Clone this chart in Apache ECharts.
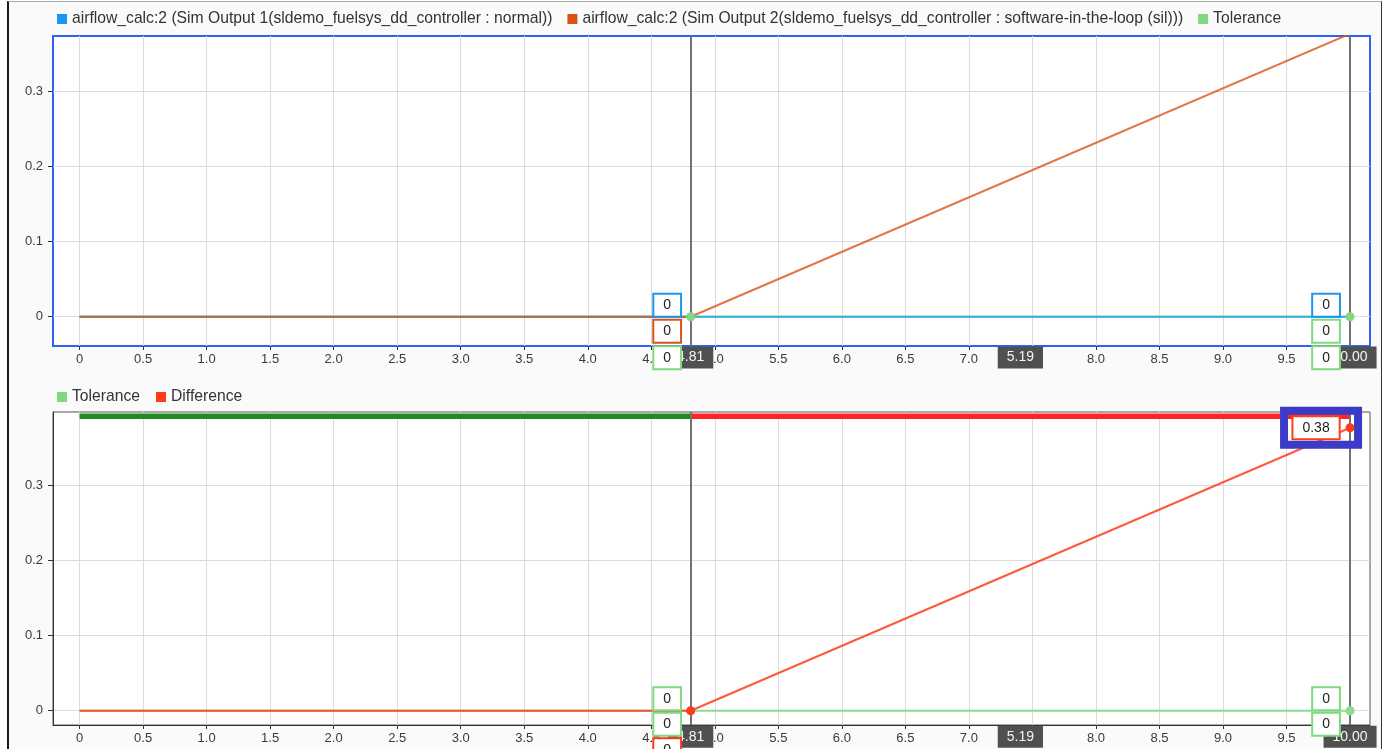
<!DOCTYPE html>
<html><head><meta charset="utf-8">
<script src="https://cdn.jsdelivr.net/npm/echarts@6/dist/echarts.min.js"></script>
<style>
html,body{margin:0;padding:0;background:#fff;overflow:hidden;}
#frame{position:absolute;left:7px;top:1px;width:1372px;height:760px;border-left:2px solid #1a1a1a;border-top:1px solid #a8a8a8;border-right:1px solid #333;background:#fafafa;}
#chart{position:absolute;left:0;top:0;width:1384px;height:749px;}
</style></head><body>
<div id="frame"></div>
<div id="chart"></div>
<script>
// ---------- data ----------
const seriesNames = [
  'airflow_calc:2 (Sim Output 1(sldemo_fuelsys_dd_controller : normal))',
  'airflow_calc:2 (Sim Output 2(sldemo_fuelsys_dd_controller : software-in-the-loop (sil)))',
  'Tolerance',
  'Difference'
];
const timeX = [0, 4.81, 10];
const simOutput1 = [0, 0, 0];
const simOutput2 = [0, 0, 0.377];
const tolerance = [0, 0, 0];
const difference = [0, 0, 0.377];
const cursors = [4.81, 10.00];
const passFail = [[0, 4.81, 1], [4.81, 10, 0]];
const xTicks = [0,0.5,1,1.5,2,2.5,3,3.5,4,4.5,5,5.5,6,6.5,7,7.5,8,8.5,9,9.5,10];
const yTicks = [0, 0.1, 0.2, 0.3];
const topReadouts = [['0','0','0'], ['0','0','0']];
const bottomReadouts = [['0','0','0'], ['0','0','0.38']];

// ---------- styles ----------
const FONT = "'Liberation Sans', Arial, sans-serif";
const C = {
  blueLegend:'#1e96f0', blueLine:'#3aaee6', orange:'#d95319', green:'#80d880', greenLine:'#8edb8e',
  red:'#ff3b1a', cursor:'#727272', passG:'#1e8c1e', failR:'#ff2424', hl:'#3b3bc8'
};
const X_MIN = -0.209, X_MAX = 10.157;
const TOP_Y = [-0.039, 0.374];
const BOT_Y = [-0.019, 0.398];

const pts = (ys) => timeX.map((x, i) => [x, ys[i]]);
const at = (ys, x) => ys[timeX.indexOf(x)];
const fmt = v => v === 0 ? '0' : v.toFixed(1);

function xAxisCfg(gridIndex, showLine) {
  return {
    type:'value', gridIndex, min:X_MIN, max:X_MAX, z:0,
    axisLine:{show:showLine, onZero:false, lineStyle:{color:'#333', width:1}},
    axisTick:{show:true, length:4, customValues:xTicks, lineStyle:{color:'#333'}},
    axisLabel:{customValues:xTicks, formatter:fmt, fontSize:13, color:'#3a3a3a', margin:7, fontFamily:FONT},
    splitLine:{show:true, lineStyle:{color:'#dcdcdc', width:1}}
  };
}
function yAxisCfg(gridIndex, ext, showLine) {
  return {
    type:'value', gridIndex, min:ext[0], max:ext[1], z:0,
    axisLine:{show:showLine, onZero:false, lineStyle:{color:'#333', width:1}},
    axisTick:{show:true, length:5, customValues:yTicks, lineStyle:{color:'#333'}},
    axisLabel:{customValues:yTicks, formatter:fmt, fontSize:13, color:'#3a3a3a', margin:10, fontFamily:FONT},
    splitLine:{show:true, lineStyle:{color:'#dcdcdc', width:1}}
  };
}

const readoutLabel = {
  show:true, position:'inside', formatter:'{b}', fontSize:14, color:'#222', fontFamily:FONT, opacity:1,
  backgroundColor:'#fff', borderWidth:2, padding:[2,9,2,9], lineHeight:17
};
const cursorLabel = {
  show:true, position:'inside', formatter:'{b}', fontSize:14, color:'#f4f4f4', fontFamily:FONT, opacity:1,
  backgroundColor:'#505050', padding:[3,9,3,9], lineHeight:16
};
const hidden = {color:'rgba(0,0,0,0)', opacity:1};

function readoutItems(xIdx, yVal, texts, colors, dx, dys) {
  return texts.map((t, i) => ({
    name:t, value:[cursors[xIdx], yVal],
    label:{borderColor:colors[i], offset:[dx, dys[i]]}
  }));
}
function cursorLabelItems(yMin) {
  const mid = (cursors[0] + cursors[1]) / 2;
  return [
    {name:cursors[0].toFixed(2), value:[cursors[0], yMin]},
    {name:cursors[1].toFixed(2), value:[cursors[1], yMin]},
    {name:(cursors[1] - cursors[0]).toFixed(2), value:[mid, yMin]}
  ];
}
function cursorMarkLine(xi, yi, z) {
  return {
    type:'line', name:'_cursor'+xi, xAxisIndex:xi, yAxisIndex:yi, data:[], z,
    markLine:{silent:true, symbol:['none','none'], label:{show:false}, animation:false,
      lineStyle:{color:C.cursor, width:2, type:'solid', opacity:1},
      data:cursors.map(c => ({xAxis:c}))}
  };
}

const topDy = [-11.5, 14.5, 41];
const botDy = [-12, 13.5, 39];
const legendText = {fontSize:15.7, color:'#333', fontFamily:FONT};

const option = {
  animation:false,
  textStyle:{fontFamily:FONT},
  legend:[
    {left:57, top:11, padding:0, icon:'rect', itemWidth:10, itemHeight:10, itemGap:15, itemTextGap:4, selectedMode:false,
     textStyle:legendText,
     data:[{name:seriesNames[0], itemStyle:{color:C.blueLegend}},
           {name:seriesNames[1], itemStyle:{color:C.orange}},
           {name:seriesNames[2], itemStyle:{color:C.green}}]},
    {left:57, top:389, padding:0, icon:'rect', itemWidth:10, itemHeight:10, itemGap:16, itemTextGap:4, selectedMode:false,
     textStyle:legendText,
     data:[{name:seriesNames[2], itemStyle:{color:C.green}},
           {name:seriesNames[3], itemStyle:{color:C.red}}]}
  ],
  grid:[
    {left:53, top:36, width:1317, height:310, show:true, backgroundColor:'#fff', borderColor:'#2e62f7', borderWidth:2},
    {left:53, top:412, width:1317, height:313, show:true, backgroundColor:'#fff', borderColor:'#555', borderWidth:1}
  ],
  xAxis:[xAxisCfg(0, false), xAxisCfg(1, true)],
  yAxis:[yAxisCfg(0, TOP_Y, false), yAxisCfg(1, BOT_Y, true)],
  series:[
    // ---- top plot ----
    {type:'line', name:seriesNames[2], xAxisIndex:0, yAxisIndex:0, data:pts(tolerance), showSymbol:false, z:2,
     lineStyle:{color:C.green, width:2}, itemStyle:{color:C.green}},
    {type:'line', name:seriesNames[0], xAxisIndex:0, yAxisIndex:0, data:pts(simOutput1), showSymbol:false, z:3,
     lineStyle:{color:C.blueLine, width:2}, itemStyle:{color:C.blueLegend}},
    {type:'line', name:seriesNames[1], xAxisIndex:0, yAxisIndex:0, data:pts(simOutput2), showSymbol:false, z:4,
     lineStyle:{color:C.orange, width:2, opacity:0.8}, itemStyle:{color:C.orange}},
    cursorMarkLine(0, 0, 5),
    {type:'scatter', name:'_dotsTop', xAxisIndex:0, yAxisIndex:0, symbolSize:9, z:6,
     itemStyle:{color:C.green, opacity:1},
     data:cursors.map(c => [c, at(tolerance, c)])},
    {type:'scatter', name:'_curLblTop', xAxisIndex:0, yAxisIndex:0, symbolSize:1, zlevel:1, z:7, itemStyle:hidden,
     label:{...cursorLabel, offset:[0, 11.5]}, data:cursorLabelItems(TOP_Y[0])},
    {type:'scatter', name:'_readTop', xAxisIndex:0, yAxisIndex:0, symbolSize:1, zlevel:1, z:8, itemStyle:hidden,
     label:readoutLabel,
     data:[
       ...readoutItems(0, at(simOutput1, cursors[0]), topReadouts[0], [C.blueLegend, C.orange, C.green], -23.5, topDy),
       ...readoutItems(1, at(simOutput1, cursors[1]), topReadouts[1], [C.blueLegend, C.green, C.green], -24, topDy)
     ]},
    // ---- bottom plot ----
    {type:'custom', name:'_passFail', xAxisIndex:1, yAxisIndex:1, data:passFail, z:2, clip:false,
     encode:{x:[0,1]},
     renderItem:(params, api) => {
       const x0 = api.coord([api.value(0), 0])[0];
       const x1 = api.coord([api.value(1), 0])[0];
       const top = params.coordSys.y;
       return {type:'rect', shape:{x:x0, y:top + 1.5, width:x1 - x0, height:5.5},
               style:{fill: api.value(2) ? C.passG : C.failR}};
     }},
    {type:'line', name:seriesNames[2], xAxisIndex:1, yAxisIndex:1, data:pts(tolerance), showSymbol:false, z:3,
     lineStyle:{color:C.greenLine, width:2}, itemStyle:{color:C.green}},
    {type:'line', name:seriesNames[3], xAxisIndex:1, yAxisIndex:1, data:pts(difference), showSymbol:false, z:4,
     lineStyle:{color:C.red, width:2, opacity:0.85}, itemStyle:{color:C.red}},
    cursorMarkLine(1, 1, 5),
    {type:'scatter', name:'_dotsBotG', xAxisIndex:1, yAxisIndex:1, symbolSize:9, z:6,
     itemStyle:{color:C.greenLine, opacity:1}, data:[[cursors[1], at(tolerance, cursors[1])]]},
    {type:'scatter', name:'_dotsBotR', xAxisIndex:1, yAxisIndex:1, symbolSize:9, z:6,
     itemStyle:{color:C.red, opacity:1}, data:cursors.map(c => [c, at(difference, c)])},
    {type:'scatter', name:'_curLblBot', xAxisIndex:1, yAxisIndex:1, symbolSize:1, zlevel:1, z:7, itemStyle:hidden,
     label:{...cursorLabel, offset:[0, 11.7]}, data:cursorLabelItems(BOT_Y[0])},
    {type:'scatter', name:'_readBot', xAxisIndex:1, yAxisIndex:1, symbolSize:1, zlevel:1, z:8, itemStyle:hidden,
     label:readoutLabel,
     data:[
       ...readoutItems(0, at(tolerance, cursors[0]), bottomReadouts[0], [C.green, C.green, C.red], -23.5, botDy),
       ...readoutItems(1, at(tolerance, cursors[1]), bottomReadouts[1].slice(0,2), [C.green, C.green], -24, botDy),
       {name:bottomReadouts[1][2], value:[cursors[1], at(difference, cursors[1])],
        label:{borderColor:C.red, offset:[-34, 0]}}
     ]},
    {type:'scatter', name:'_hlBot', xAxisIndex:1, yAxisIndex:1, symbolSize:1, zlevel:1, z:9, itemStyle:hidden,
     label:{show:true, position:'inside', formatter:' ', width:74, height:34, padding:0, opacity:1,
            backgroundColor:'transparent', borderColor:C.hl, borderWidth:4, offset:[-29, 0]},
     data:[{name:' ', value:[cursors[1], at(difference, cursors[1])]}]}
  ]
};
const chart = echarts.init(document.getElementById('chart'), null, {renderer:'canvas'});
chart.setOption(option);
</script>
</body></html>
